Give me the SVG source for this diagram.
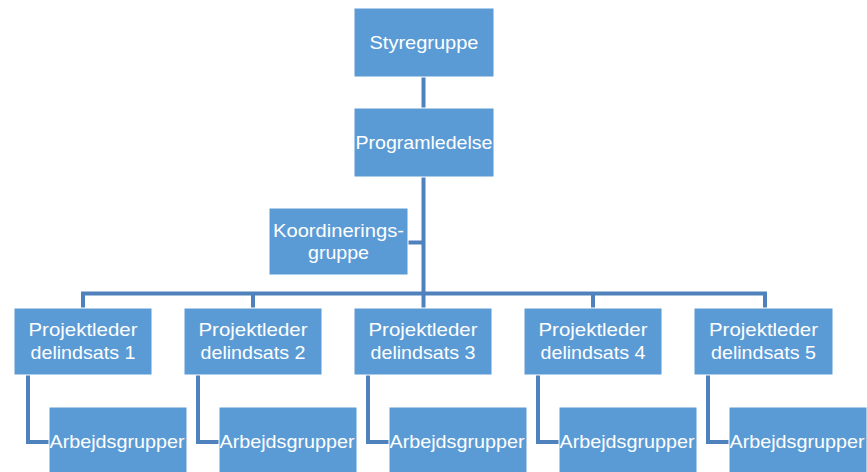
<svg xmlns="http://www.w3.org/2000/svg" width="867" height="472" viewBox="0 0 867 472">
<style>
.box{fill:#5b9bd5;stroke:#ffffff;stroke-width:1}
.t{font-family:"Liberation Sans",Arial,sans-serif;font-size:19px;fill:#ffffff;text-anchor:middle}
.c{fill:none;stroke:#4f81bd;stroke-width:4}
</style>
<rect width="867" height="472" fill="#ffffff"/>
<g id="connectors">
<path class="c" d="M423.5 77 V108"/>
<path class="c" d="M423.5 177 V308"/>
<path class="c" d="M408 242.5 H423.5"/>
<path class="c" d="M83 308 V293.5 H765 V308"/>
<path class="c" d="M253 293.5 V308 M593 293.5 V308"/>
<path class="c" d="M28 375 V442 H49"/>
<path class="c" d="M198 375 V442 H219"/>
<path class="c" d="M368 375 V442 H389"/>
<path class="c" d="M538 375 V442 H559"/>
<path class="c" d="M708 375 V442 H729"/>
</g>
<g id="styregruppe"><rect class="box" x="354" y="8" width="140" height="69"/><text class="t" x="424" y="49" textLength="109" lengthAdjust="spacingAndGlyphs">Styregruppe</text></g>
<g id="programledelse"><rect class="box" x="354" y="108" width="140" height="69"/><text class="t" x="424" y="149" textLength="137" lengthAdjust="spacingAndGlyphs">Programledelse</text></g>
<g id="koordineringsgruppe"><rect class="box" x="269" y="208" width="139" height="67"/><text class="t" x="338.5" y="237" textLength="131" lengthAdjust="spacingAndGlyphs">Koordinerings-</text><text class="t" x="338.5" y="259" textLength="61" lengthAdjust="spacingAndGlyphs">gruppe</text></g>
<g id="pl1"><rect class="box" x="14" y="308" width="138" height="67"/><text class="t" x="83" y="336" textLength="109" lengthAdjust="spacingAndGlyphs">Projektleder</text><text class="t" x="83" y="359" textLength="105" lengthAdjust="spacingAndGlyphs">delindsats 1</text></g>
<g id="pl2"><rect class="box" x="184" y="308" width="138" height="67"/><text class="t" x="253" y="336" textLength="109" lengthAdjust="spacingAndGlyphs">Projektleder</text><text class="t" x="253" y="359" textLength="105" lengthAdjust="spacingAndGlyphs">delindsats 2</text></g>
<g id="pl3"><rect class="box" x="354" y="308" width="138" height="67"/><text class="t" x="423" y="336" textLength="109" lengthAdjust="spacingAndGlyphs">Projektleder</text><text class="t" x="423" y="359" textLength="105" lengthAdjust="spacingAndGlyphs">delindsats 3</text></g>
<g id="pl4"><rect class="box" x="524" y="308" width="138" height="67"/><text class="t" x="593" y="336" textLength="109" lengthAdjust="spacingAndGlyphs">Projektleder</text><text class="t" x="593" y="359" textLength="105" lengthAdjust="spacingAndGlyphs">delindsats 4</text></g>
<g id="pl5"><rect class="box" x="694" y="308" width="139" height="67"/><text class="t" x="763.5" y="336" textLength="109" lengthAdjust="spacingAndGlyphs">Projektleder</text><text class="t" x="763.5" y="359" textLength="105" lengthAdjust="spacingAndGlyphs">delindsats 5</text></g>
<g id="ag1"><rect class="box" x="49" y="407" width="138" height="69"/><text class="t" x="117" y="448" textLength="135" lengthAdjust="spacingAndGlyphs">Arbejdsgrupper</text></g>
<g id="ag2"><rect class="box" x="219" y="407" width="138" height="69"/><text class="t" x="287" y="448" textLength="135" lengthAdjust="spacingAndGlyphs">Arbejdsgrupper</text></g>
<g id="ag3"><rect class="box" x="389" y="407" width="138" height="69"/><text class="t" x="457" y="448" textLength="135" lengthAdjust="spacingAndGlyphs">Arbejdsgrupper</text></g>
<g id="ag4"><rect class="box" x="559" y="407" width="138" height="69"/><text class="t" x="627" y="448" textLength="135" lengthAdjust="spacingAndGlyphs">Arbejdsgrupper</text></g>
<g id="ag5"><rect class="box" x="729" y="407" width="138" height="69"/><text class="t" x="797" y="448" textLength="135" lengthAdjust="spacingAndGlyphs">Arbejdsgrupper</text></g>
</svg>
